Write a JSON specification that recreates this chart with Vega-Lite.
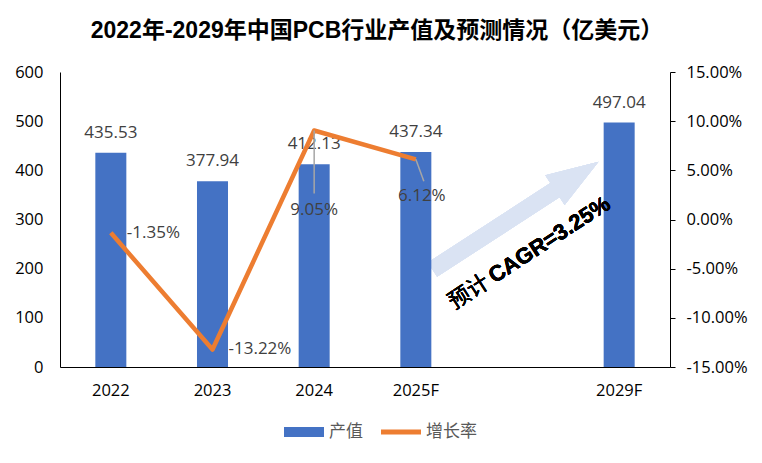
{
  "$schema": "https://vega.github.io/schema/vega-lite/v6.json",
  "width": 610,
  "height": 295,
  "autosize": {"type": "none"},
  "padding": {"left": 60, "top": 72, "right": 92, "bottom": 96},
  "background": "white",
  "config": {
    "view": {"stroke": null},
    "font": "Open Sans, Noto Sans CJK SC",
    "locale": {"number": {"decimal": ".", "thousands": ",", "grouping": [3], "currency": ["$", ""], "minus": "-"}},
    "axis": {"grid": false, "labelFont": "Open Sans", "labelFontSize": 16.5, "labelColor": "#000000", "domainColor": "#000000", "domainWidth": 1, "tickColor": "#000000"}
  },
  "title": {
    "text": "2022年-2029年中国PCB行业产值及预测情况（亿美元）",
    "font": "Liberation Sans, Noto Sans CJK SC",
    "fontSize": 23,
    "fontWeight": "bold",
    "color": "#000000",
    "anchor": "middle",
    "dx": 12,
    "offset": 21
  },
  "data": {
    "values": [
      {"year": "2022", "value": 435.53, "rate": -0.0135},
      {"year": "2023", "value": 377.94, "rate": -0.1322},
      {"year": "2024", "value": 412.13, "rate": 0.0905},
      {"year": "2025F", "value": 437.34, "rate": 0.0612},
      {"year": "2029F", "value": 497.04, "rate": null}
    ]
  },
  "encoding": {
    "x": {
      "field": "year",
      "type": "nominal",
      "sort": null,
      "title": null,
      "scale": {"domain": ["2022", "2023", "2024", "2025F", " ", "2029F"], "paddingInner": 0.695, "paddingOuter": 0.3475},
      "axis": {"labelAngle": 0, "ticks": false, "tickSize": 0, "labelPadding": 15}
    }
  },
  "layer": [
    {
      "layer": [
        {
          "mark": {"type": "point", "shape": "M-1,-0.086L0.475,-0.086L0.475,-0.18L1,0L0.475,0.18L0.475,0.086L-1,0.086Z", "size": 39204, "angle": -33, "filled": true, "fill": "#DAE3F3", "opacity": 1, "strokeWidth": 0, "xOffset": -2},
          "encoding": {
            "x": {"datum": " "},
            "y": {"datum": 307.7, "type": "quantitative", "scale": {"domain": [0, 600], "nice": false}, "title": null}
          }
        },
        {
          "mark": {"type": "bar"},
          "encoding": {
            "y": {
              "field": "value",
              "type": "quantitative",
              "title": null,
              "scale": {"domain": [0, 600], "nice": false},
              "axis": {"orient": "left", "values": [0, 100, 200, 300, 400, 500, 600], "ticks": false, "tickSize": 0, "labelPadding": 17, "domain": true}
            },
            "color": {
              "datum": "产值",
              "type": "nominal",
              "scale": {"domain": ["产值", "增长率"], "range": ["#4472C4", "#ED7D31"]},
              "legend": {
                "orient": "none",
                "legendX": 224,
                "legendY": 340,
                "direction": "horizontal",
                "title": null,
                "labelFont": "Noto Sans CJK SC",
                "labelFontSize": 17,
                "labelColor": "#595959",
                "symbolType": "M-1,-0.25H1V0.25H-1Z",
                "symbolSize": 1600,
                "symbolStrokeWidth": 0,
                "labelOffset": 5,
                "columnPadding": 18,
                "encode": {
                  "symbols": {
                    "update": {
                      "shape": {"signal": "datum.value === '增长率' ? 'M-1,-0.12H1V0.12H-1Z' : 'M-1,-0.25H1V0.25H-1Z'"},
                      "fill": {"signal": "datum.value === '增长率' ? '#ED7D31' : '#4472C4'"},
                      "strokeWidth": {"value": 0}
                    }
                  }
                }
              }
            }
          }
        },
        {
          "mark": {"type": "text", "baseline": "middle", "align": "center", "dy": -20, "fontSize": 17, "color": "#404040"},
          "encoding": {
            "y": {"field": "value", "type": "quantitative", "title": null, "scale": {"domain": [0, 600], "nice": false}},
            "text": {"field": "value", "type": "quantitative", "format": ".2f"}
          }
        },
        {
          "mark": {"type": "text", "angle": -33, "align": "left", "baseline": "middle", "dx": -80, "font": "Noto Sans CJK SC", "fontSize": 22, "fontWeight": "normal", "color": "#000000"},
          "encoding": {
            "x": {"datum": " "},
            "y": {"datum": 216.6, "type": "quantitative", "title": null, "scale": {"domain": [0, 600], "nice": false}},
            "text": {"value": "预计"}
          }
        },
        {
          "mark": {"type": "text", "angle": -33, "align": "left", "baseline": "middle", "dx": -32, "font": "Liberation Sans", "fontSize": 22, "fontWeight": "bold", "color": "#000000"},
          "encoding": {
            "x": {"datum": " "},
            "y": {"datum": 216.6, "type": "quantitative", "title": null, "scale": {"domain": [0, 600], "nice": false}},
            "text": {"value": "CAGR=3.25%"}
          }
        }
      ]
    },
    {
      "transform": [{"filter": "datum.rate != null"}],
      "layer": [
        {
          "mark": {"type": "line", "strokeWidth": 4.5, "strokeJoin": "round"},
          "encoding": {
            "y": {
              "field": "rate",
              "type": "quantitative",
              "title": null,
              "scale": {"domain": [-0.15, 0.15], "nice": false},
              "axis": {"orient": "right", "format": ".2%", "values": [-0.15, -0.1, -0.05, 0, 0.05, 0.1, 0.15], "ticks": true, "tickSize": 5, "labelPadding": 11}
            },
            "color": {"datum": "增长率", "type": "nominal"}
          }
        },
        {
          "transform": [{"filter": "datum.year === '2024'"}],
          "mark": {"type": "rule", "color": "#A6A6A6", "strokeWidth": 1.5, "y2Offset": 63},
          "encoding": {
            "y": {"field": "rate", "type": "quantitative", "title": null, "scale": {"domain": [-0.15, 0.15], "nice": false}},
            "y2": {"field": "rate"}
          }
        },
        {
          "transform": [{"filter": "datum.year === '2025F'"}],
          "mark": {"type": "rule", "color": "#A6A6A6", "strokeWidth": 1.5, "x2Offset": 8, "y2Offset": 22},
          "encoding": {
            "x2": {"field": "year", "bandPosition": 0.5},
            "y": {"field": "rate", "type": "quantitative", "title": null, "scale": {"domain": [-0.15, 0.15], "nice": false}},
            "y2": {"field": "rate"}
          }
        },
        {
          "transform": [{"filter": "datum.year === '2022' || datum.year === '2023'"}],
          "mark": {"type": "text", "align": "left", "baseline": "middle", "dx": 16, "fontSize": 17, "color": "#404040"},
          "encoding": {
            "y": {"field": "rate", "type": "quantitative", "title": null, "scale": {"domain": [-0.15, 0.15], "nice": false}},
            "text": {"field": "rate", "type": "quantitative", "format": ".2%"}
          }
        },
        {
          "transform": [{"filter": "datum.year === '2024'"}],
          "mark": {"type": "text", "align": "center", "baseline": "middle", "dy": 79, "fontSize": 17, "color": "#404040"},
          "encoding": {
            "y": {"field": "rate", "type": "quantitative", "title": null, "scale": {"domain": [-0.15, 0.15], "nice": false}},
            "text": {"field": "rate", "type": "quantitative", "format": ".2%"}
          }
        },
        {
          "transform": [{"filter": "datum.year === '2025F'"}],
          "mark": {"type": "text", "align": "center", "baseline": "middle", "dx": 6, "dy": 37, "fontSize": 17, "color": "#404040"},
          "encoding": {
            "y": {"field": "rate", "type": "quantitative", "title": null, "scale": {"domain": [-0.15, 0.15], "nice": false}},
            "text": {"field": "rate", "type": "quantitative", "format": ".2%"}
          }
        }
      ]
    }
  ],
  "resolve": {"scale": {"y": "independent"}}
}
